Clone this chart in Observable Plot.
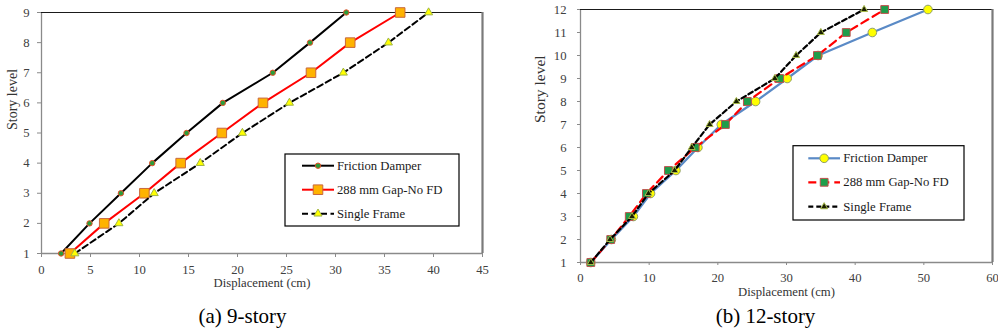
<!DOCTYPE html>
<html><head><meta charset="utf-8">
<script src="https://cdn.jsdelivr.net/npm/d3@7"></script>
<script src="https://cdn.jsdelivr.net/npm/@observablehq/plot@0.6"></script>
<style>
html,body{margin:0;padding:0;background:#fff;}
#wrap{position:relative;width:998px;height:336px;overflow:hidden;font-family:"Liberation Serif","Times New Roman","DejaVu Serif",serif;}
#wrap svg{position:absolute;top:0;}
#wrap svg, #wrap svg text{font-family:"Liberation Serif","Times New Roman","DejaVu Serif",serif !important;}
</style></head><body><div id="wrap"></div>
<script>
// ---- data ----
const seriesNames = ["Friction Damper", "288 mm Gap-No FD", "Single Frame"];
const stories9 = [1, 2, 3, 4, 5, 6, 7, 8, 9];
const fd9  = [2.0, 4.9, 8.1, 11.3, 14.8, 18.5, 23.6, 27.4, 31.1];
const gap9 = [2.9, 6.4, 10.5, 14.2, 18.4, 22.6, 27.5, 31.5, 36.6];
const sf9  = [3.4, 7.9, 11.5, 16.2, 20.5, 25.3, 30.8, 35.4, 39.5];
const stories12 = [1, 2, 3, 4, 5, 6, 7, 8, 9, 10, 11, 12];
const fd12  = [1.5, 4.5, 7.7, 10.2, 13.9, 17.1, 20.5, 25.5, 30.1, 34.6, 42.5, 50.6];
const gap12 = [1.5, 4.4, 7.1, 9.6, 12.8, 16.7, 21.1, 24.3, 29.0, 34.5, 38.7, 44.3];
const sf12  = [1.5, 4.3, 7.5, 9.9, 13.7, 16.2, 18.8, 22.7, 28.3, 31.4, 35.0, 41.3];
const ticksX9 = [0, 5, 10, 15, 20, 25, 30, 35, 40, 45];
const ticksY9 = [1, 2, 3, 4, 5, 6, 7, 8, 9];
const ticksX12 = [0, 10, 20, 30, 40, 50, 60];
const ticksY12 = [1, 2, 3, 4, 5, 6, 7, 8, 9, 10, 11, 12];
const xTitle = "Displacement (cm)";
const yTitle = "Story level";
const caption9 = "(a) 9-story";
const caption12 = "(b) 12-story";

const rows = (xs, ys) => ys.map((y, i) => ({x: xs[i], y}));
const FONT = '"Liberation Serif", "Times New Roman", "DejaVu Serif", serif';
const AX = "#8a8a8a";

// styles for each panel's series
const style9 = [
  {stroke: "#000", width: 2, dash: null, symbol: "circle", r: 2.7, fill: "#2a9d3a", mstroke: "#e8502a"},
  {stroke: "#ff0000", width: 2, dash: null, symbol: "square", r: 5.4, fill: "#ffb300", mstroke: "#c8683c"},
  {stroke: "#000", width: 2, dash: "6,3.5", symbol: "triangle", r: 3, fill: "#ffff00", mstroke: "#9fb446"}
];
const style12 = [
  {stroke: "#5a8ac6", width: 2.2, dash: null, symbol: "circle", r: 4.3, fill: "#ffff00", mstroke: "#8e9e6a"},
  {stroke: "#ff0000", width: 2.2, dash: "8,5", symbol: "square", r: 4.4, fill: "#1e9e4a", mstroke: "#c0504d"},
  {stroke: "#000", width: 2.2, dash: "5,3", symbol: "triangle", r: 2.6, fill: "#1a1f00", mstroke: "#a6b84a"}
];

function seriesMarks(data, s) {
  return [
    Plot.line(data, {x: "x", y: "y", stroke: s.stroke, strokeWidth: s.width, strokeDasharray: s.dash}),
    Plot.dot(data, {x: "x", y: "y", symbol: s.symbol, r: s.r, fill: s.fill, stroke: s.mstroke, strokeWidth: 1})
  ];
}

function panel(o) {
  return Plot.plot({
    width: 499, height: 336,
    marginLeft: o.ml, marginRight: o.mr, marginTop: o.mt, marginBottom: o.mb,
    x: {domain: o.xd, label: null},
    y: {domain: o.yd, label: null},
    style: {fontFamily: FONT, fontSize: "12.7px", background: "transparent", overflow: "visible"},
    marks: [
      Plot.ruleY([o.yd[0]], {stroke: AX, strokeWidth: 1.3}),
      Plot.ruleX([o.xd[0]], {stroke: AX, strokeWidth: 1.3}),
      Plot.ruleY([o.yd[1]], {stroke: "#1a1a1a", strokeWidth: 1.2}),
      Plot.ruleX([o.xd[1]], {stroke: "#7a7a7a", strokeWidth: 2.2}),
      Plot.axisX({ticks: o.tx, tickSize: o.ts, tickPadding: 7, stroke: AX, fill: "#404040", label: null, tickFormat: d => String(d)}),
      Plot.axisY({ticks: o.ty, tickSize: o.ts, tickPadding: o.tp, stroke: AX, fill: "#404040", label: null, tickFormat: d => String(d)}),
      ...o.series.flatMap((d, i) => seriesMarks(d, o.styles[i])),
      Plot.text([yTitle], {text: d => d, frameAnchor: "left", rotate: -90, dx: o.ytdx, dy: o.ytdy, fontSize: o.ytfs, fill: "#333"}),
      Plot.text([xTitle], {text: d => d, frameAnchor: "bottom", dy: 33, fontSize: 12.7, fill: "#333"}),
      Plot.text([o.caption], {text: d => d, frameAnchor: "bottom", dx: o.cdx, dy: o.cdy, fontSize: 21, fill: "#000"})
    ]
  });
}

function addLegend(svg, box, ys, lx0, lx1, tx, styles) {
  const g = d3.select(svg).append("g").attr("font-family", FONT).attr("font-size", "12.7px").attr("text-anchor", "start");
  g.append("rect").attr("x", box[0]).attr("y", box[1]).attr("width", box[2] - box[0]).attr("height", box[3] - box[1])
    .attr("fill", "#fff").attr("stroke", "#000").attr("stroke-width", 1.2);
  styles.forEach((s, i) => {
    const y = ys[i];
    g.append("line").attr("x1", lx0).attr("x2", lx1).attr("y1", y).attr("y2", y)
      .attr("stroke", s.stroke).attr("stroke-width", s.width).attr("stroke-dasharray", s.dash);
    const sym = {circle: d3.symbolCircle, square: d3.symbolSquare, triangle: d3.symbolTriangle}[s.symbol];
    g.append("path").attr("d", d3.symbol(sym, Math.PI * s.r * s.r)())
      .attr("transform", `translate(${(lx0 + lx1) / 2},${y})`)
      .attr("fill", s.fill).attr("stroke", s.mstroke).attr("stroke-width", 1);
    g.append("text").attr("x", tx).attr("y", y).attr("dy", "0.32em").attr("text-anchor", "start")
      .attr("fill", "#1a1a1a").text(seriesNames[i]);
  });
}

const wrap = document.getElementById("wrap");

const left = panel({
  ml: 41, mr: 17, mt: 12, mb: 83, xd: [0, 45], yd: [1, 9], tx: ticksX9, ty: ticksY9, ts: 4, tp: 8,
  series: [rows(fd9, stories9), rows(gap9, stories9), rows(sf9, stories9)], styles: style9,
  ytdx: -29, ytdy: -3, ytfs: 14, caption: caption9, cdx: -19.5, cdy: 69
});
left.style.left = "0px";
wrap.appendChild(left);
addLegend(left, [285, 154, 459, 226], [165.7, 189.7, 213.7], 302, 334, 337, style9);

const right = panel({
  ml: 81, mr: 6, mt: 9, mb: 74, xd: [0, 60], yd: [1, 12], tx: ticksX12, ty: ticksY12, ts: 3, tp: 11,
  series: [rows(fd12, stories12), rows(gap12, stories12), rows(sf12, stories12)], styles: style12,
  ytdx: -40, ytdy: -13, ytfs: 15.5, caption: caption12, cdx: -21, cdy: 60
});
right.style.left = "499px";
wrap.appendChild(right);
addLegend(right, [294, 145.7, 465, 220], [158.3, 182.3, 206.7], 309.3, 341, 344.3, style12);
</script></body></html>
